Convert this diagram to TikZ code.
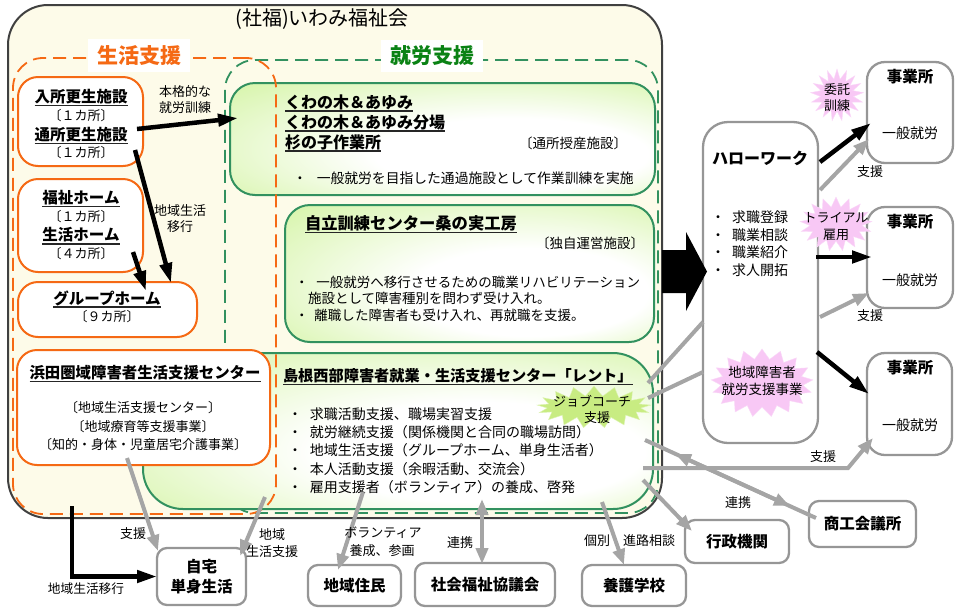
\documentclass[tikz,border=0pt]{standalone}
\usepackage{fontspec}
\setmainfont{Noto Sans CJK JP}
\usetikzlibrary{arrows.meta,shapes.symbols}
\definecolor{cream}{RGB}{253,251,233}
\definecolor{orng}{RGB}{245,105,20}
\definecolor{grn}{RGB}{50,145,95}
\definecolor{grntxt}{RGB}{10,130,20}
\definecolor{lgrn}{RGB}{205,242,150}
\definecolor{gbord}{RGB}{150,150,150}
\definecolor{garr}{RGB}{165,165,165}
\definecolor{pnk}{RGB}{248,200,245}
\definecolor{jcg}{RGB}{200,236,130}
\pgfdeclareradialshading{gshade}{\pgfpoint{12bp}{-10bp}}{color(0bp)=(white); color(16bp)=(white); color(44bp)=(lgrn); color(50bp)=(lgrn)}
\begin{document}
\begin{tikzpicture}[x=1pt,y=-1pt,
  every node/.style={inner sep=0pt, outer sep=0pt},
  t12/.style={font=\fontsize{13}{15}\selectfont},
  t13/.style={font=\fontsize{13}{16}\selectfont},
  t135/.style={font=\fontsize{13.5}{16}\selectfont},
  t14/.style={font=\fontsize{14}{17}\selectfont},
  b155/.style={font=\bfseries\fontsize{15.5}{20}\selectfont},
  b16/.style={font=\bfseries\fontsize{16}{19}\selectfont},
  obox/.style={draw=orng, line width=2pt, fill=white, rounded corners=20pt},
  gbox/.style={draw=grn, line width=2pt, shade, shading=gshade, rounded corners=25pt},
  wbox/.style={draw=gbord, line width=2.3pt, fill=white, rounded corners=10pt},
  dframe/.style={line width=1.8pt, dash pattern=on 13pt off 7pt, rounded corners=30pt},
  ul/.style={append after command={([yshift=-3pt]\tikzlastnode.base west) edge[line width=1.2pt, draw=black!85, -] ([yshift=-3pt]\tikzlastnode.base east)}},
  blk/.style={line width=4.5pt, draw=black, -{Triangle[length=20pt,width=12pt]}},
  gry/.style={line width=4pt, draw=garr, -{Triangle[length=16pt,width=12pt]}},
  gln/.style={line width=4pt, draw=garr},
  burst/.style={starburst, starburst points=17, starburst point height=10pt, random starburst=0},
]
\useasboundingbox (0,0) rectangle (957,611);

% outer organisation box
\node[draw=black!75, line width=2pt, fill=cream, rounded corners=40pt, minimum width=654pt, minimum height=513pt] (outer) at (335,261.5) {};
\node[font=\fontsize{20}{23}\selectfont] (title) at (322,19) {(社福)いわみ福祉会};

% green dashed frame
\node[dframe, draw=grn, minimum width=433pt, minimum height=453pt] (gframe) at (441.5,286.5) {};

% green boxes
\node[gbox, minimum width=425pt, minimum height=112pt] (g1) at (442.5,139) {};
\node[gbox, minimum width=369pt, minimum height=137pt] (g2) at (469.5,273.5) {};
\node[gbox, rounded corners=40pt, minimum width=510pt, minimum height=156pt] (g3) at (398,431) {};

% orange boxes
\node[obox, minimum width=125pt, minimum height=89pt] (a) at (80.5,121.5) {};
\node[obox, minimum width=125pt, minimum height=93pt] (b) at (80.5,225.5) {};
\node[obox, minimum width=179pt, minimum height=55pt] (c) at (107.5,309.5) {};
\node[obox, minimum width=253pt, minimum height=115pt] (d) at (143.5,407.5) {};

% orange dashed frame
\node[dframe, draw=orng, minimum width=263pt, minimum height=456pt] (oframe) at (144.5,286) {};

% frame labels
\node[fill=white, inner xsep=9pt, inner ysep=6pt, text=orng, font=\bfseries\fontsize{21}{24}\selectfont] (seikatsu) at (139,55.5) {生活支援};
\node[fill=white, inner xsep=9pt, inner ysep=6pt, text=grntxt, font=\bfseries\fontsize{21}{24}\selectfont] (shuro) at (432,56) {就労支援};

% box A
\node[b155, ul] (a1) at (81,97) {入所更生施設};
\node[t12] (a2) at (81,116) {〔１カ所〕};
\node[b155, ul] (a3) at (81,135) {通所更生施設};
\node[t12] (a4) at (81,153) {〔１カ所〕};
% box B
\node[b155, ul] (b1) at (81,198) {福祉ホーム};
\node[t12] (b2) at (81,217) {〔１カ所〕};
\node[b155, ul] (b3) at (81,235) {生活ホーム};
\node[t12] (b4) at (81,254) {〔４カ所〕};
% box C
\node[b155, ul] (c1) at (107,298) {グループホーム};
\node[t12] (c2) at (107,317) {〔９カ所〕};
% box D
\node[ul, font=\bfseries\fontsize{15.4}{19}\selectfont] (d1) at (145,373) {浜田圏域障害者生活支援センター};
\node[t13] (d2) at (143,408) {〔地域生活支援センター〕};
\node[t13] (d3) at (143,427) {〔地域療育等支援事業〕};
\node[t13] (d4) at (143,445) {〔知的・身体・児童居宅介護事業〕};

% G1 texts
\node[b16, ul, anchor=west] (g1a) at (285,102) {くわの木＆あゆみ};
\node[b16, ul, anchor=west] (g1b) at (285,122) {くわの木＆あゆみ分場};
\node[b16, ul, anchor=west] (g1c) at (285,142) {杉の子作業所};
\node[t135, anchor=east] (g1d) at (627,143) {〔通所授産施設〕};
\node[font=\fontsize{13.8}{16}\selectfont, anchor=west] (g1e) at (293,178) {・\hspace{10pt}一般就労を目指した通過施設として作業訓練を実施};

% G2 texts
\node[ul, anchor=west, font=\bfseries\fontsize{16.3}{19}\selectfont] (g2a) at (305,223) {自立訓練センター桑の実工房};
\node[t135, anchor=east] (g2b) at (644,243) {〔独自運営施設〕};
\node[t135, anchor=west] (g2c) at (295,282) {・\hspace{8pt}一般就労へ移行させるための職業リハビリテーション};
\node[t135, anchor=west] (g2d) at (308,298) {施設として障害種別を問わず受け入れ。};
\node[t135, anchor=west] (g2e) at (295,315) {・\hspace{6pt}離職した障害者も受け入れ、再就職を支援。};

% G3 texts
\node[ul, anchor=west, font=\bfseries\fontsize{15.2}{18}\selectfont] (g3a) at (283,376) {島根西部障害者就業・生活支援センター「レント」};
\foreach \t [count=\i from 0] in {求職活動支援、職場実習支援, 就労継続支援（関係機関と合同の職場訪問）, 地域生活支援（グループホーム、単身生活者）, 本人活動支援（余暇活動、交流会）, 雇用支援者（ボランティア）の養成、啓発}
  \node[t14, anchor=west] (g3b\i) at (288,{414+18.3*\i}) {・\hspace{8pt}\t};

% job coach burst
\node[burst, fill=jcg, draw=jcg!60!white, minimum width=114pt, minimum height=42pt] (jc) at (594,407) {};
\node[t13] (jc1) at (592,401) {ジョブコーチ};
\node[t13] (jc2) at (597,418) {支援};

% Hello Work
\node[wbox, rounded corners=25pt, minimum width=115pt, minimum height=321pt] (hw) at (760.5,282.5) {};
\node[b16] (hwt) at (760,158) {ハローワーク};
\foreach \t [count=\i from 0] in {求職登録, 職業相談, 職業紹介, 求人開拓}
  \node[t14, anchor=west] (hwb\i) at (711,{217+17.7*\i}) {・\hspace{7pt}\t};
\node[burst, fill=pnk, draw=pnk!70!white, minimum width=102pt, minimum height=68pt] (chiiki) at (762,383) {};
\node[t135] (chiiki1) at (762,372) {地域障害者};
\node[t135] (chiiki2) at (762,389) {就労支援事業};

% employers
\node[wbox, rounded corners=18pt, minimum width=86pt, minimum height=101pt] (e1) at (910,112.5) {};
\node[b155] (e1a) at (910,77) {事業所};
\node[t14] (e1b) at (910,133) {一般就労};
\node[wbox, rounded corners=18pt, minimum width=86pt, minimum height=101pt] (e2) at (910,257.5) {};
\node[b155] (e2a) at (910,222) {事業所};
\node[t14] (e2b) at (910,280) {一般就労};
\node[wbox, rounded corners=18pt, minimum width=85pt, minimum height=102pt] (e3) at (909.5,404) {};
\node[b155] (e3a) at (910,368) {事業所};
\node[t14] (e3b) at (910,425) {一般就労};

\node[burst, fill=pnk, draw=pnk!70!white, minimum width=53pt, minimum height=52pt] (itaku) at (837,95) {};
\node[t13] (itaku1) at (837,90) {委託};
\node[t13] (itaku2) at (837,106) {訓練};
\node[burst, fill=pnk, draw=pnk!70!white, minimum width=72pt, minimum height=54pt] (trial) at (836,224) {};
\node[t13] (trial1) at (836,218) {トライアル};
\node[t13] (trial2) at (836,235) {雇用};

% bottom boxes
\node[wbox, b155, minimum width=104pt, minimum height=43pt] (gyosei) at (737,541.5) {行政機関};
\node[wbox, b155, minimum width=107pt, minimum height=46pt] (shoko) at (862.5,524) {商工会議所};
\node[wbox, b155, minimum width=104pt, minimum height=41pt] (yogo) at (634,585.5) {養護学校};
\node[wbox, b155, minimum width=140pt, minimum height=43pt] (shakyo) at (485,584.5) {社会福祉協議会};
\node[wbox, b155, minimum width=93pt, minimum height=41pt] (jumin) at (354.5,585.5) {地域住民};
\node[wbox, b155, align=center, font=\bfseries\fontsize{15.5}{20}\selectfont, minimum width=89pt, minimum height=57pt] (jitaku) at (201.5,576.5) {自宅\\単身生活};

% connector end points
\coordinate (pA1) at (137,129); \coordinate (pG1) at (238,118);
\coordinate (pA2) at (135,150); \coordinate (pC1) at (171,283);
\coordinate (pB1) at (133,252); \coordinate (pC2) at (146,291);
\coordinate (pL0) at (72,506);
\coordinate (pD1) at (127,458); \coordinate (pJ1) at (158,551);
\coordinate (pO1) at (265,497); \coordinate (pJ2) at (240,556);
\coordinate (pR1) at (363,492); \coordinate (pR2) at (338,570);
\coordinate (pK1) at (482,499); \coordinate (pK2) at (482,564);
\coordinate (pY1) at (602,502); \coordinate (pY2) at (624,565);
\coordinate (pV1) at (643,480); \coordinate (pV2) at (692,531);
\coordinate (pS0) at (645,440); \coordinate (pS3) at (816,518);
\coordinate (pS1) at (675,453.7); \coordinate (pS2) at (790,506.1);
\coordinate (pE0) at (643,468); \coordinate (pE1) at (848,468); \coordinate (pE2) at (873,438);
\coordinate (pH1) at (648,383); \coordinate (pH2) at (703,322);
\coordinate (pH3) at (648,398); \coordinate (pH4) at (703,372);
\coordinate (pW1) at (820,190); \coordinate (pW2) at (869,139);
\coordinate (pW3) at (820,317); \coordinate (pW4) at (869,293);
\coordinate (pX1) at (820,162); \coordinate (pX2) at (871,123);
\coordinate (pX3) at (816,257); \coordinate (pX4) at (872,257);
\coordinate (pX5) at (817,352); \coordinate (pX6) at (869,394);

% big block arrow
\fill[black] (662,250) -- (686,250) -- (686,232) -- (707,271.5) -- (686,311) -- (686,293) -- (662,293) -- cycle;

% black arrows
\draw[blk] (pA1) -- (pG1);
\draw[blk] (pA2) -- (pC1);
\draw[blk] (pB1) -- (pC2);
\draw[blk] (pL0) |- (jitaku.west);
\draw[blk] (pX1) -- (pX2);
\draw[blk] (pX3) -- (pX4);
\draw[blk] (pX5) -- (pX6);

% gray connectors
\draw[gry] (pD1) -- (pJ1);
\draw[gry] (pO1) -- (pJ2);
\draw[gry] (pR1) -- (pR2);
\draw[gry, {Triangle[length=16pt,width=12pt]}-{Triangle[length=16pt,width=12pt]}] (pK1) -- (pK2);
\draw[gry] (pY1) -- (pY2);
\draw[gry] (pV1) -- (pV2);
\draw[gln] (pS0) -- (pS3);
\draw[gry, {Triangle[length=16pt,width=12pt]}-{Triangle[length=16pt,width=12pt]}] (pS1) -- (pS2);
\draw[gry] (pE0) -- (pE1) -- (pE2);
\draw[gln] (pH1) -- (pH2);
\draw[gln] (pH3) -- (pH4);
\draw[gry] (pW1) -- (pW2);
\draw[gry] (pW3) -- (pW4);

% connector labels
\node[t13] (l1) at (185,92) {本格的な};
\node[t13] (l2) at (185,108) {就労訓練};
\node[t13] (l3) at (180,211) {地域生活};
\node[t13] (l4) at (180,227) {移行};
\node[font=\fontsize{12.7}{15}\selectfont] (l5) at (86,589) {地域生活移行};
\node[t13] (l6) at (133,534) {支援};
\node[t13] (l7) at (272,535) {地域};
\node[t13] (l8) at (272,552) {生活支援};
\node[t13] (l9) at (383,533) {ボランティア};
\node[t13] (l10) at (382,551) {養成、参画};
\node[t13] (l11) at (460,543) {連携};
\node[t13] (l12) at (597,541) {個別};
\node[t13] (l13) at (649,541) {進路相談};
\node[t13] (l14) at (738,503) {連携};
\node[t13] (l15) at (823,457) {支援};
\node[t13] (l16) at (870,172) {支援};
\node[t13] (l17) at (870,316) {支援};
\end{tikzpicture}
\end{document}
